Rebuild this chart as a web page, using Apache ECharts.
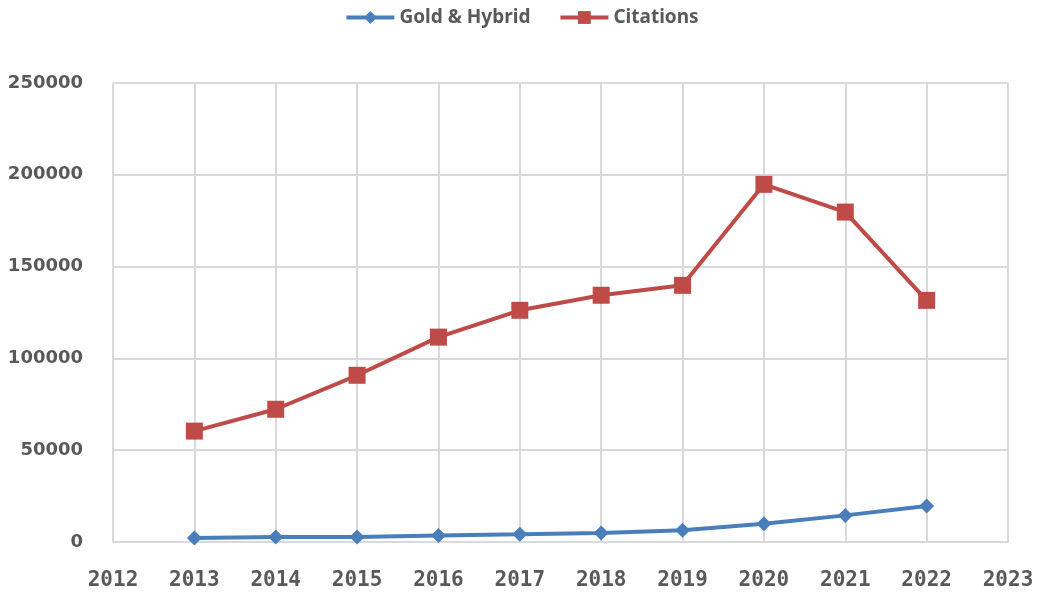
<!DOCTYPE html>
<html>
<head>
<meta charset="utf-8">
<script src="https://cdn.jsdelivr.net/npm/echarts@6/dist/echarts.min.js"></script>
<style>
html, body { margin: 0; padding: 0; background: #fff; }
#chart { width: 1043px; height: 600px; }
</style>
</head>
<body>
<div id="chart"></div>
<script>
// data
var years = [2013, 2014, 2015, 2016, 2017, 2018, 2019, 2020, 2021, 2022];
var goldHybrid = [2200, 2700, 2700, 3600, 4200, 4900, 6400, 10000, 14500, 19600];
var citations = [60400, 72300, 90800, 111600, 126200, 134400, 139800, 194800, 179700, 131600];

function pairs(ys) {
    var out = [];
    for (var i = 0; i < years.length; i++) {
        out.push([years[i], ys[i]]);
    }
    return out;
}

// plain numbers, no thousands separator
function plain(v) {
    return String(v);
}

var chart = echarts.init(document.getElementById('chart'));
chart.setOption({
    animation: false,
    color: ['#4a7ebb', '#be4b48'],
    legend: {
        top: 3,
        left: 'center',
        itemWidth: 48,
        itemHeight: 16,
        itemGap: 28,
        lineStyle: { width: 4 },
        textStyle: {
            color: '#595959',
            fontFamily: 'Noto Sans',
            fontWeight: 'bold',
            fontSize: 19
        },
        data: ['Gold & Hybrid', 'Citations']
    },
    grid: {
        left: 113,
        right: 35,
        top: 83,
        bottom: 58
    },
    xAxis: {
        type: 'value',
        min: 2012,
        max: 2023,
        interval: 1,
        axisLine: { lineStyle: { color: '#d9d9d9', width: 2 } },
        axisTick: { show: false },
        splitLine: { lineStyle: { color: '#d9d9d9', width: 2 } },
        axisLabel: {
            margin: 28,
            formatter: plain,
            color: '#595959',
            fontFamily: 'DejaVu Sans Mono',
            fontWeight: 'bold',
            fontSize: 21
        }
    },
    yAxis: {
        type: 'value',
        min: 0,
        max: 250000,
        interval: 50000,
        axisLine: { show: false },
        axisTick: { show: false },
        splitLine: { lineStyle: { color: '#d9d9d9', width: 2 } },
        axisLabel: {
            margin: 30,
            formatter: plain,
            color: '#595959',
            fontFamily: 'DejaVu Sans',
            fontWeight: 'bold',
            fontSize: 18
        }
    },
    series: [
        {
            name: 'Gold & Hybrid',
            type: 'line',
            data: pairs(goldHybrid),
            symbol: 'diamond',
            symbolSize: 15,
            lineStyle: { width: 4 }
        },
        {
            name: 'Citations',
            type: 'line',
            data: pairs(citations),
            symbol: 'rect',
            symbolSize: 17,
            lineStyle: { width: 4 }
        }
    ]
});
</script>
</body>
</html>
